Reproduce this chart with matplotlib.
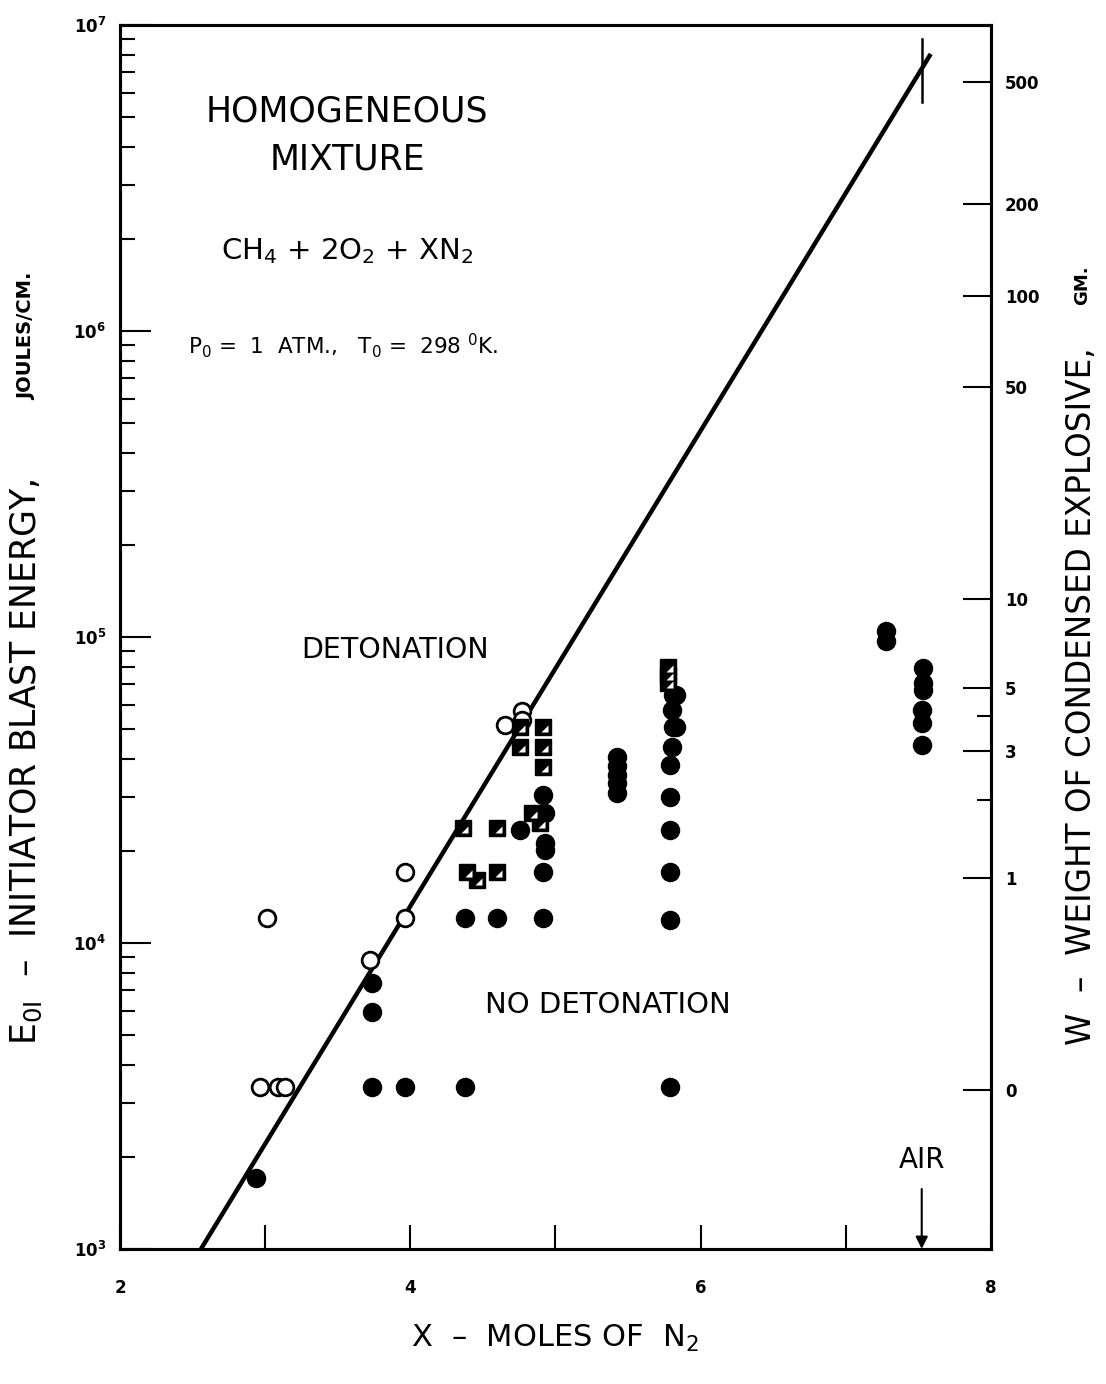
import matplotlib
matplotlib.use('Agg')
import matplotlib.pyplot as plt
from matplotlib.ticker import FixedLocator, NullFormatter, LogLocator
import numpy as np

plt.rcParams['font.family'] = ['DejaVu Sans']
plt.rcParams['mathtext.fontset'] = 'dejavusans'

# ---- data ----
# open circles: detonation
open_x = [3.012, 2.964, 3.088, 3.136, 3.722, 3.963, 3.963, 4.651, 4.769, 4.769]
open_e = [12100, 3380, 3380, 3380, 8800, 17100, 12100, 51500, 57300, 53500]

# filled circles: no detonation
fill_x = [2.937, 3.736, 3.736, 3.736, 3.963, 4.376,
          4.376, 4.596, 4.913, 4.913, 4.755, 4.913, 4.927, 4.927, 4.927,
          5.423, 5.423, 5.423, 5.423, 5.423,
          5.809, 5.802, 5.809, 5.802, 5.788, 5.788, 5.788, 5.788, 5.788, 5.788,
          5.830, 5.830,
          7.275, 7.275,
          7.530, 7.530, 7.530, 7.523, 7.523, 7.523]
fill_e = [1710, 7390, 5950, 3380, 3380, 3380,
          12100, 12100, 12100, 17100, 23400, 30500, 26600, 21200, 20100,
          40600, 38000, 35500, 33200, 30900,
          64600, 57700, 50800, 43700, 38200, 30000, 23400, 17100, 11900, 3380,
          64600, 50800,
          104600, 97000,
          79200, 70800, 67100, 57700, 52300, 44400]

# half-filled squares
sq_x = [4.362, 4.596, 4.390, 4.459, 4.596, 4.755, 4.755, 4.913, 4.913, 4.913,
        4.837, 4.893, 5.774, 5.774, 5.774]
sq_e = [23800, 23800, 17100, 16100, 17100, 50800, 43700, 50800, 43700, 37600,
        26600, 24700, 79800, 75200, 70800]

# boundary line
line_x = [2.558, 7.585]
line_e = [1000, 8.04e6]
air_x = 7.523

# right axis: explosive weight (gm) -> energy
w_major = [0, 1, 3, 5, 10, 50, 100, 200, 500]
w_minor = [2, 4]
e_det = 3300     # energy of detonator alone
e_per_gm = 13000

fig = plt.figure(figsize=(11.06, 13.84), dpi=100)
ax = fig.add_axes([0.1085, 0.0976, 0.7875, 0.8844])
ax.set_xlim(2, 8)
ax.set_yscale('log')
ax.set_ylim(1e3, 1e7)

ax.plot(line_x, line_e, color='black', lw=3.2, solid_capstyle='butt')
ax.plot([air_x, air_x], [5.6e6, 9.0e6], color='black', lw=1.8)

ax.plot(open_x, open_e, 'o', ms=12, mfc='white', mec='black', mew=2.0, ls='none')
ax.plot(fill_x, fill_e, 'o', ms=13, mfc='black', mec='black', ls='none')
ax.plot(sq_x, sq_e, 's', ms=11.5, mfc='black', mec='black', ls='none')
tri = [(-0.15, -0.34), (0.34, -0.34), (0.34, 0.15)]
ax.plot(sq_x, sq_e, ls='none', marker=tri, ms=11.5 * 0.68, mfc='white', mec='none')

# AIR arrow
ax.annotate('', xy=(air_x, 1000), xytext=(air_x, 1570),
            arrowprops=dict(arrowstyle='-|>', color='black', lw=1.5,
                            mutation_scale=18, shrinkA=0, shrinkB=0))
ax.text(air_x, 1950, 'AIR', ha='center', va='center', fontsize=20)

# texts inside the plot
ax.text(0.261, 0.929, 'HOMOGENEOUS', transform=ax.transAxes, ha='center', va='center', fontsize=25)
ax.text(0.261, 0.890, 'MIXTURE', transform=ax.transAxes, ha='center', va='center', fontsize=25)
ax.text(0.261, 0.815, r'CH$_4$ + 2O$_2$ + XN$_2$', transform=ax.transAxes,
        ha='center', va='center', fontsize=21)
ax.text(0.256, 0.738, r'P$_0$ =  1  ATM.,   T$_0$ =  298 $^0$K.', transform=ax.transAxes,
        ha='center', va='center', fontsize=15.5)
ax.text(0.316, 0.489, 'DETONATION', transform=ax.transAxes, ha='center', va='center', fontsize=20.5)
ax.text(0.560, 0.199, 'NO DETONATION', transform=ax.transAxes, ha='center', va='center', fontsize=21)

# axes styling
for s in ax.spines.values():
    s.set_linewidth(2.2)
ax.set_xticks([2, 3, 4, 5, 6, 7, 8])
ax.set_xticklabels(['2', '', '4', '', '6', '', '8'], fontweight='bold', fontsize=12)
ax.tick_params(axis='x', which='major', direction='in', length=17, width=1.5, pad=22, top=False)
ax.yaxis.set_major_locator(FixedLocator([1e3, 1e4, 1e5, 1e6, 1e7]))
ax.set_yticklabels([r'$\mathbf{10^3}$', r'$\mathbf{10^4}$', r'$\mathbf{10^5}$',
                    r'$\mathbf{10^6}$', r'$\mathbf{10^7}$'], fontsize=12)
ax.yaxis.set_minor_locator(LogLocator(base=10, subs=np.arange(2, 10)))
ax.yaxis.set_minor_formatter(NullFormatter())
ax.tick_params(axis='y', which='major', direction='in', length=22, width=1.5, pad=10)
ax.tick_params(axis='y', which='minor', direction='in', length=11, width=1.5)

ax2 = ax.twinx()
ax2.set_yscale('log')
ax2.set_ylim(1e3, 1e7)
ax2.yaxis.set_major_locator(FixedLocator([e_det + e_per_gm * w for w in w_major]))
ax2.set_yticklabels([str(w) for w in w_major], fontweight='bold', fontsize=12)
ax2.yaxis.set_minor_locator(FixedLocator([e_det + e_per_gm * w for w in w_minor]))
ax2.yaxis.set_minor_formatter(NullFormatter())
ax2.tick_params(axis='y', which='major', direction='in', length=20, width=1.5, pad=10)
ax2.tick_params(axis='y', which='minor', direction='in', length=10, width=1.5)
for s in ax2.spines.values():
    s.set_linewidth(2.2)

# axis titles
fig.text(0.502, 1 - 1338 / 1384, r'X  –  MOLES OF  N$_2$', ha='center', va='center', fontsize=22)
fig.text(0.024, 1 - 1045 / 1384, r'E$_{\mathrm{0I}}$  –  INITIATOR BLAST ENERGY,',
         rotation=90, ha='center', va='bottom', fontsize=25)
fig.text(0.024, 1 - 400 / 1384, 'JOULES/CM.', rotation=90, ha='center', va='bottom',
         fontsize=14, fontweight='bold')
fig.text(0.978, 1 - 1045 / 1384, 'W  –  WEIGHT OF CONDENSED EXPLOSIVE,',
         rotation=90, ha='center', va='bottom', fontsize=23.5)
fig.text(0.978, 1 - 305 / 1384, 'GM.', rotation=90, ha='center', va='bottom',
         fontsize=13, fontweight='bold')

fig.savefig('out.png', dpi=100)
